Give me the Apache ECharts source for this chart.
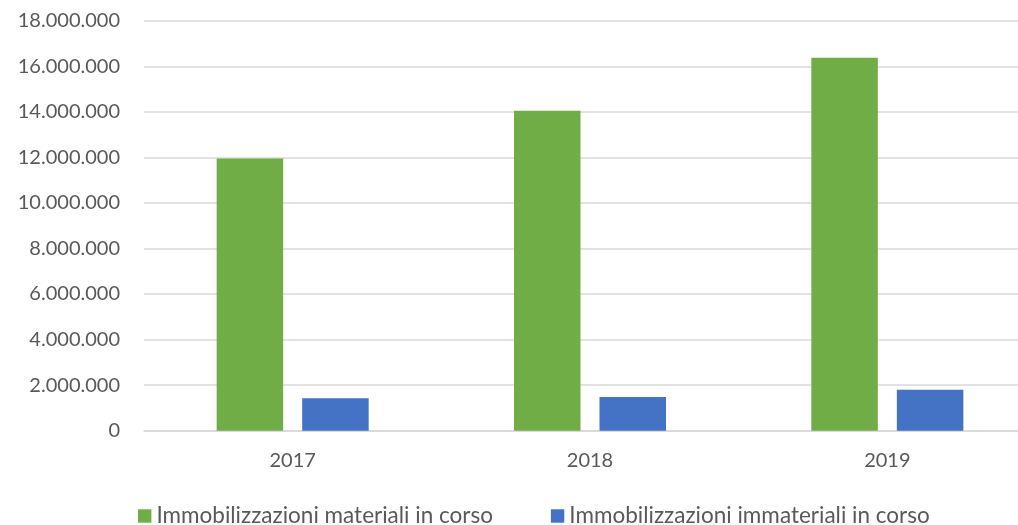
<!DOCTYPE html>
<html>
<head>
<meta charset="utf-8">
<title>Immobilizzazioni in corso</title>
<script src="https://cdn.jsdelivr.net/npm/echarts@6/dist/echarts.min.js"></script>
<style>
  html, body { margin: 0; padding: 0; background: #fff; }
  #chart { width: 1018px; height: 525px; }
</style>
</head>
<body>
<div id="chart"></div>
<script>
// dati
const years = ["2017", "2018", "2019"];
const materiali = [11950000, 14050000, 16370000];
const immateriali = [1420000, 1480000, 1800000];
const yTicks = { min: 0, max: 18000000, interval: 2000000 };

const labelColor = "#595959";
const gridColor = "#D9D9D9";

// separatore migliaia con il punto
function fmt(v) {
  return String(v).replace(/\B(?=(\d{3})+(?!\d))/g, ".");
}

const chart = echarts.init(document.getElementById("chart"));
chart.setOption({
  animation: false,
  textStyle: { fontFamily: "Lato" },
  // l'area del grafico esce un po' a destra, come nell'originale
  grid: {
    left: 144, width: 892, top: 20.7, bottom: 94.3,
    containLabel: false, outerBoundsMode: "none"
  },
  legend: {
    left: 138,
    top: 504.5,
    padding: 0,
    itemWidth: 13.4,
    itemHeight: 13.4,
    itemGap: 58,
    icon: "rect",
    textStyle: { color: labelColor, fontSize: 22.5, fontFamily: "Lato" },
    data: ["Immobilizzazioni materiali in corso", "Immobilizzazioni immateriali in corso"]
  },
  xAxis: {
    type: "category",
    data: years,
    axisLine: { lineStyle: { color: gridColor, width: 1.5 } },
    axisTick: { show: false },
    axisLabel: { color: labelColor, fontSize: 20, margin: 20 }
  },
  yAxis: {
    type: "value",
    min: yTicks.min,
    max: yTicks.max,
    interval: yTicks.interval,
    axisLine: { show: false },
    axisTick: { show: false },
    splitLine: { lineStyle: { color: gridColor, width: 1.5 } },
    axisLabel: { color: labelColor, fontSize: 20, margin: 24, formatter: fmt }
  },
  series: [
    {
      name: "Immobilizzazioni materiali in corso",
      type: "bar",
      data: materiali,
      barWidth: 66.5,
      barGap: "28.6%",
      itemStyle: { color: "#70AD47" }
    },
    {
      name: "Immobilizzazioni immateriali in corso",
      type: "bar",
      data: immateriali,
      barWidth: 66.5,
      barGap: "28.6%",
      itemStyle: { color: "#4472C4" }
    }
  ]
});
</script>
</body>
</html>
